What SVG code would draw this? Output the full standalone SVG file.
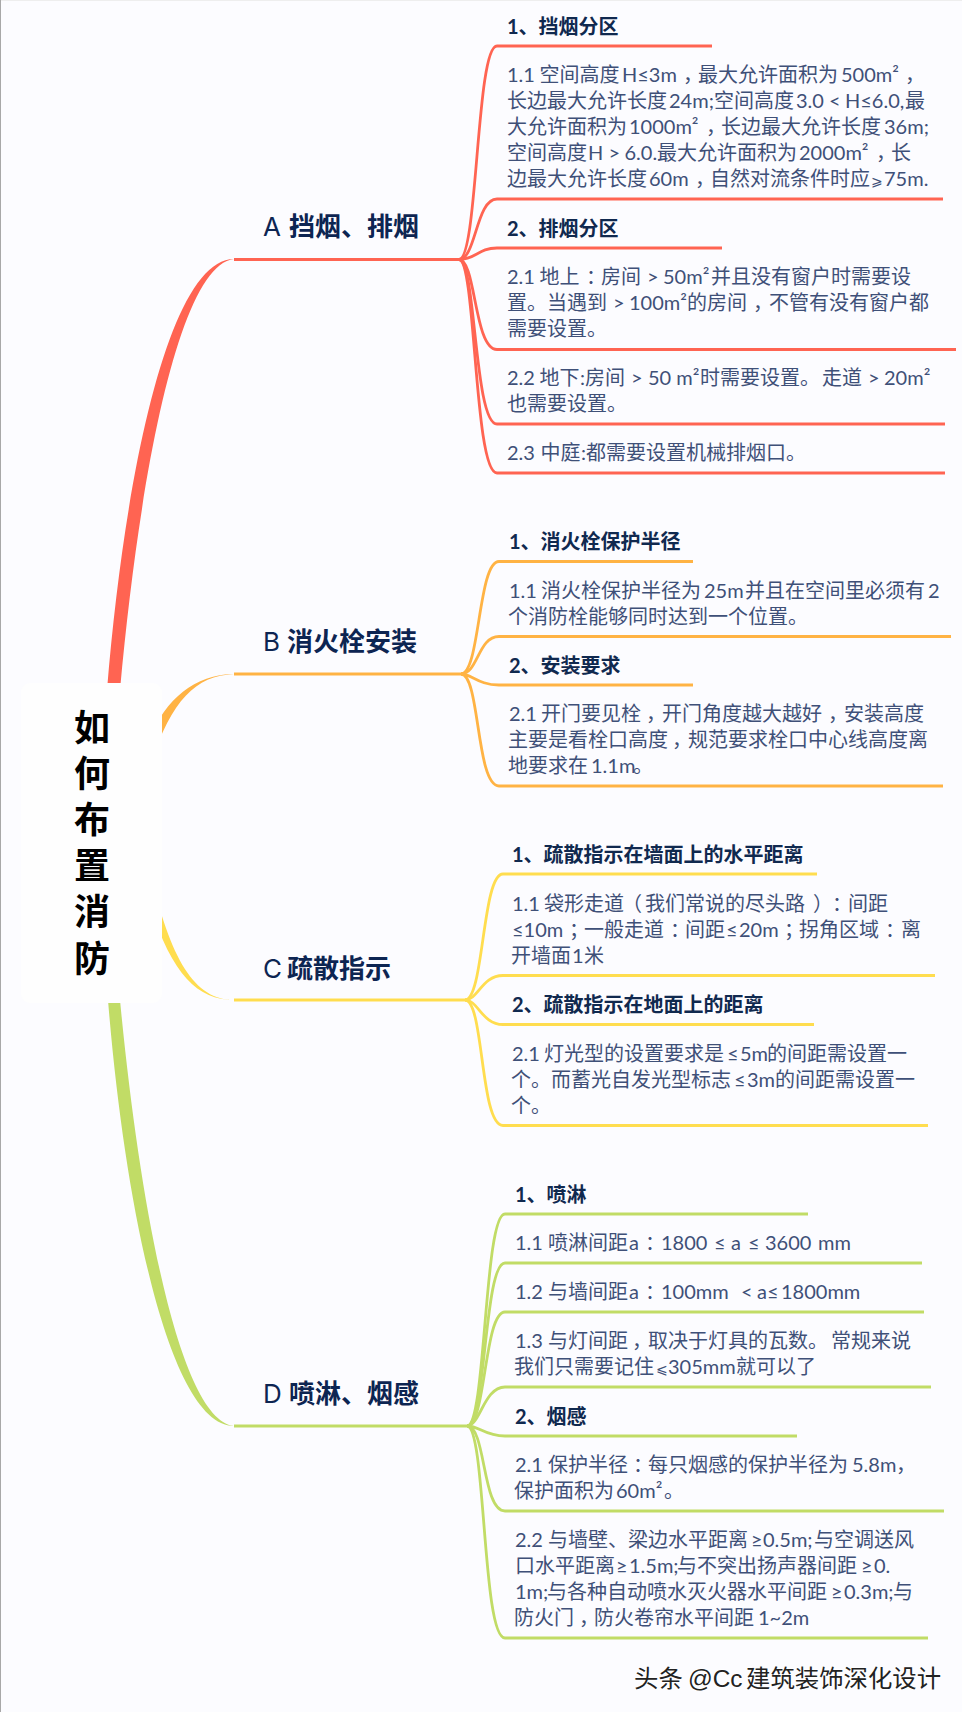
<svg xmlns="http://www.w3.org/2000/svg" width="962" height="1712" viewBox="0 0 962 1712">
<style>
text{font-family:"Lato","Noto Sans CJK SC",sans-serif}
.b{font-size:26px;font-weight:700;fill:#0d2552}
.l{font-family:"Inter",sans-serif;font-weight:400}
.t{font-size:20px;font-weight:700;fill:#10294f}
.d{font-size:20px;font-weight:400;fill:#3f5078}
.p{font-feature-settings:"halt"}
.s{font-size:14px}
.r{font-size:36px;font-weight:700;fill:#000;letter-spacing:10.2px;writing-mode:vertical-rl;font-family:"Noto Sans CJK SC",sans-serif}
.w{font-size:24.4px;fill:#222;stroke:#fff;stroke-width:1.5px;paint-order:stroke;font-family:"Liberation Sans","Noto Sans CJK SC",sans-serif}
.c{fill:none;stroke-width:2.8px;stroke-linecap:butt}
.A{stroke:#ff6452}.B{stroke:#ffb344}.C{stroke:#ffdd4f}.D{stroke:#c1dc66}
</style>
<rect width="962" height="1712" fill="#fcfcff"/>
<rect width="962" height="1" fill="#eeeeee"/>
<rect width="1" height="1712" fill="#a8a8a8"/>
<g id="connectors">
<path fill="#ff6452" d="M107,690C125,470 170,259 234,259C180,265 140,470 120,690Z"/>
<path fill="#ffb344" d="M150,738C165,700 195,674 234,674C195,676 172,700 150,765Z"/>
<path fill="#ffdd4f" d="M150,870C170,960 195,1000 234,1000C198,1000 172,975 150,905Z"/>
<path fill="#c1dc66" d="M108,1000C125,1210 170,1426 234,1426C180,1420 140,1210 120,1000Z"/>
<g class="c A">
<path d="M234,259.5H459"/>
<path d="M459,259.5C478,259.5 476,46 497,46H712"/>
<path d="M459,259.5C476,259.5 476,199 497,199H943"/>
<path d="M459,259.5C476,259.5 478,248 497,248H722"/>
<path d="M459,259.5C476,259.5 474,349.5 497,349.5H956"/>
<path d="M459,259.5C476,259.5 474,424 497,424H945"/>
<path d="M459,259.5C476,259.5 474,473 497,473H945"/>
</g>
<g class="c B">
<path d="M234,674H461"/>
<path d="M461,674C480,674 478,561.5 499,561.5H693"/>
<path d="M461,674C478,674 478,636.5 499,636.5H951"/>
<path d="M461,674C472,674 478,685 499,685H693"/>
<path d="M461,674C480,674 476,786 499,786H943"/>
</g>
<g class="c C">
<path d="M234,1000H465"/>
<path d="M465,1000C484,1000 482,874 503,874H817"/>
<path d="M465,1000C478,1000 482,975.5 503,975.5H935"/>
<path d="M465,1000C478,1000 482,1024.5 503,1024.5H814"/>
<path d="M465,1000C484,1000 480,1125.5 503,1125.5H928"/>
</g>
<g class="c D">
<path d="M234,1426H467"/>
<path d="M467,1426C486,1426 484,1214 505,1214H808"/>
<path d="M467,1426C486,1426 484,1263 505,1263H922"/>
<path d="M467,1426C486,1426 484,1312 505,1312H924"/>
<path d="M467,1426C480,1426 484,1387 505,1387H931"/>
<path d="M467,1426C480,1426 484,1436 505,1436H797"/>
<path d="M467,1426C486,1426 482,1511 505,1511H944"/>
<path d="M467,1426C486,1426 482,1638 505,1638H928"/>
</g>
</g>
<g id="root">
<rect x="21" y="683" width="141" height="320" rx="9" fill="#fefefe"/>
<text class="r" x="92" y="709">如何布置消防</text>
</g>
<g id="branch-a"><text class="b" y="235.5"><tspan class="l" x="263">A </tspan><tspan x="289">挡烟、排烟</tspan></text></g>
<g id="branch-b"><text class="b" y="650.5"><tspan class="l" x="263">B </tspan><tspan x="287">消火栓安装</tspan></text></g>
<g id="branch-c"><text class="b" y="977.5"><tspan class="l" x="263">C </tspan><tspan x="287">疏散指示</tspan></text></g>
<g id="branch-d"><text class="b" y="1402.5"><tspan class="l" x="263">D </tspan><tspan x="289">喷淋、烟感</tspan></text></g>
<g id="a-1"><text class="t" x="507" y="33.5">1、挡烟分区</text></g>
<g id="a-1-1">
<text class="d" y="82"><tspan x="507">1.1 </tspan><tspan x="539.5">空间高度</tspan><tspan x="622">H≤3m</tspan><tspan class="p" x="683">，</tspan><tspan x="698">最大允许面积为</tspan><tspan x="841">500m²</tspan><tspan class="p" x="905">，</tspan></text>
<text class="d" y="108"><tspan x="507">长边最大允许长度</tspan><tspan x="669">24m;</tspan><tspan x="714">空间高度</tspan><tspan x="796">3.0 </tspan><tspan x="829">&lt; </tspan><tspan x="845">H≤6.0,</tspan><tspan x="905">最</tspan></text>
<text class="d" y="134"><tspan x="507">大允许面积为</tspan><tspan x="629">1000m²</tspan><tspan class="p" x="706">，</tspan><tspan x="721">长边最大允许长度</tspan><tspan x="884">36m;</tspan></text>
<text class="d" y="160"><tspan x="507">空间高度</tspan><tspan x="588">H </tspan><tspan x="608.5">&gt; </tspan><tspan x="624.5">6.0.</tspan><tspan x="657">最大允许面积为</tspan><tspan x="799">2000m²</tspan><tspan class="p" x="876">，</tspan><tspan x="891">长</tspan></text>
<text class="d" y="186"><tspan x="507">边最大允许长度</tspan><tspan x="649">60m</tspan><tspan class="p" x="695">，</tspan><tspan x="710">自然对流条件时应</tspan><tspan class="s" x="871">⩾</tspan><tspan x="884">75m.</tspan></text>
</g>
<g id="a-2"><text class="t" x="507" y="235.5">2、排烟分区</text></g>
<g id="a-2-1">
<text class="d" y="284"><tspan x="507">2.1 </tspan><tspan x="539.5">地上</tspan><tspan class="p" x="586">：</tspan><tspan x="601">房间 </tspan><tspan x="647">&gt; </tspan><tspan x="663">50m²</tspan><tspan x="711">并且没有窗户时需要设</tspan></text>
<text class="d" y="310"><tspan x="507">置。</tspan><tspan x="547">当遇到 </tspan><tspan x="613">&gt; </tspan><tspan x="629">100m²</tspan><tspan x="687">的房间</tspan><tspan class="p" x="753">，</tspan><tspan x="769">不管有没有窗户都</tspan></text>
<text class="d" x="507" y="336">需要设置。</text>
</g>
<g id="a-2-2">
<text class="d" y="385"><tspan x="507">2.2 </tspan><tspan x="539.5">地下</tspan><tspan x="580">:</tspan><tspan x="585">房间 </tspan><tspan x="631">&gt; </tspan><tspan x="648">50 m²</tspan><tspan x="700">时需要设置。</tspan><tspan x="822">走道 </tspan><tspan x="868">&gt; </tspan><tspan x="884">20m²</tspan></text>
<text class="d" x="507" y="411">也需要设置。</text>
</g>
<g id="a-2-3"><text class="d" y="460"><tspan x="507">2.3 </tspan><tspan x="540.5">中庭</tspan><tspan x="581">:</tspan><tspan x="586">都需要设置机械排烟口。</tspan></text></g>
<g id="b-1"><text class="t" x="509" y="549">1、消火栓保护半径</text></g>
<g id="b-1-1">
<text class="d" y="597.5"><tspan x="509">1.1 </tspan><tspan x="541">消火栓保护半径为</tspan><tspan x="704">25m</tspan><tspan x="745">并且在空间里必须有</tspan><tspan x="928">2</tspan></text>
<text class="d" x="508" y="623.5">个消防栓能够同时达到一个位置。</text>
</g>
<g id="b-2"><text class="t" x="509" y="672.5">2、安装要求</text></g>
<g id="b-2-1">
<text class="d" y="721"><tspan x="509">2.1 </tspan><tspan x="541">开门要见栓</tspan><tspan class="p" x="646">，</tspan><tspan x="662">开门角度越大越好</tspan><tspan class="p" x="828">，</tspan><tspan x="844">安装高度</tspan></text>
<text class="d" y="747"><tspan x="508">主要是看栓口高度</tspan><tspan class="p" x="672">，</tspan><tspan x="688">规范要求栓口中心线高度离</tspan></text>
<text class="d" y="773"><tspan x="508">地要求在</tspan><tspan x="591">1.1m</tspan><tspan x="633">。</tspan></text>
</g>
<g id="c-1"><text class="t" x="512" y="861.5">1、疏散指示在墙面上的水平距离</text></g>
<g id="c-1-1">
<text class="d" y="910.5"><tspan x="512">1.1 </tspan><tspan x="544">袋形走道</tspan><tspan class="p" x="632">（</tspan><tspan x="645">我们常说的尽头路</tspan><tspan class="p" x="813">）</tspan><tspan class="p" x="832">：</tspan><tspan x="848">间距</tspan></text>
<text class="d" y="936.5"><tspan x="512">≤10m</tspan><tspan class="p" x="569">；</tspan><tspan x="584">一般走道</tspan><tspan class="p" x="670">：</tspan><tspan x="685">间距</tspan><tspan x="726">≤</tspan><tspan x="739">20m</tspan><tspan class="p" x="784">；</tspan><tspan x="799">拐角区域</tspan><tspan class="p" x="885">：</tspan><tspan x="901">离</tspan></text>
<text class="d" y="962.5"><tspan x="511">开墙面</tspan><tspan x="572">1</tspan><tspan x="584">米</tspan></text>
</g>
<g id="c-2"><text class="t" x="512" y="1012">2、疏散指示在地面上的距离</text></g>
<g id="c-2-1">
<text class="d" y="1060.5"><tspan x="512">2.1 </tspan><tspan x="544">灯光型的设置要求是</tspan><tspan x="727">≤</tspan><tspan x="740">5m</tspan><tspan x="767">的间距需设置一</tspan></text>
<text class="d" y="1086.5"><tspan x="511">个。</tspan><tspan x="551">而蓄光自发光型标志</tspan><tspan x="734">≤</tspan><tspan x="747">3m</tspan><tspan x="775">的间距需设置一</tspan></text>
<text class="d" x="511" y="1112.5">个。</text>
</g>
<g id="d-1"><text class="t" x="515" y="1201.5">1、喷淋</text></g>
<g id="d-1-1"><text class="d" y="1250"><tspan x="515">1.1 </tspan><tspan x="548">喷淋间距</tspan><tspan x="629">a</tspan><tspan class="p" x="645">：</tspan><tspan x="661">1800 </tspan><tspan x="714">≤ </tspan><tspan x="731">a </tspan><tspan x="748">≤ </tspan><tspan x="765">3600 </tspan><tspan x="818">mm</tspan></text></g>
<g id="d-1-2"><text class="d" y="1299"><tspan x="515">1.2 </tspan><tspan x="548">与墙间距</tspan><tspan x="629">a</tspan><tspan class="p" x="645">：</tspan><tspan x="661">100mm </tspan><tspan x="741">&lt; </tspan><tspan x="757">a≤</tspan><tspan x="781">1800mm</tspan></text></g>
<g id="d-1-3">
<text class="d" y="1348"><tspan x="515">1.3 </tspan><tspan x="548">与灯间距</tspan><tspan class="p" x="632">，</tspan><tspan x="648">取决于灯具的瓦数。</tspan><tspan x="831">常规来说</tspan></text>
<text class="d" y="1374"><tspan x="514">我们只需要记住</tspan><tspan class="s" x="656">⩽</tspan><tspan x="668">305mm</tspan><tspan x="736">就可以了</tspan></text>
</g>
<g id="d-2"><text class="t" x="515" y="1423.5">2、烟感</text></g>
<g id="d-2-1">
<text class="d" y="1472"><tspan x="515">2.1 </tspan><tspan x="548">保护半径</tspan><tspan class="p" x="633">：</tspan><tspan x="648">每只烟感的保护半径为</tspan><tspan x="852">5.8m</tspan><tspan class="p" x="896">，</tspan></text>
<text class="d" y="1498"><tspan x="514">保护面积为</tspan><tspan x="616">60m²</tspan><tspan x="664">。</tspan></text>
</g>
<g id="d-2-2">
<text class="d" y="1547"><tspan x="515">2.2 </tspan><tspan x="548">与墙壁、梁边水平距离</tspan><tspan x="751">≥</tspan><tspan x="763">0.5m;</tspan><tspan x="814">与空调送风</tspan></text>
<text class="d" y="1573"><tspan x="515">口水平距离</tspan><tspan x="616">≥</tspan><tspan x="629">1.5m;</tspan><tspan x="677">与不突出扬声器间距</tspan><tspan x="861">≥</tspan><tspan x="874">0.</tspan></text>
<text class="d" y="1599"><tspan x="515">1m;</tspan><tspan x="547">与各种自动喷水灭火器水平间距</tspan><tspan x="831">≥</tspan><tspan x="844">0.3m;</tspan><tspan x="893">与</tspan></text>
<text class="d" y="1625"><tspan x="514">防火门</tspan><tspan class="p" x="579">，</tspan><tspan x="594">防火卷帘水平间距</tspan><tspan x="758">1~2m</tspan></text>
</g>
<g id="watermark"><text class="w" y="1687"><tspan x="634">头条 </tspan><tspan x="688">@Cc</tspan><tspan x="746">建筑装饰深化设计</tspan></text></g>
</svg>
